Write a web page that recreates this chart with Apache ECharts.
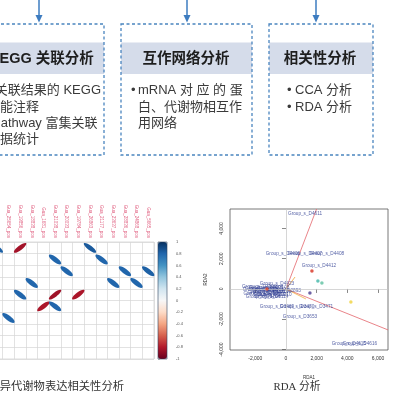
<!DOCTYPE html>
<html><head><meta charset="utf-8">
<script src="https://cdn.jsdelivr.net/npm/echarts@6/dist/echarts.min.js"></script>
<style>html,body{margin:0;padding:0;background:#fff}#c{width:396px;height:396px}</style>
</head><body><div id="c"></div>
<script>
// ---------------- data: correlation (ellipse) plot ----------------
const corrColumns = ['Gua_26432_pos','Gua_25654_pos','Gua_19856_pos','Gua_18838_pos','Gua_1681_pos','Gua_21038_pos','Gua_20033_pos','Gua_19784_pos','Gua_26863_pos','Gua_21177_pos','Gua_23637_pos','Gua_28836_pos','Gua_24868_pos','Gua_5665_pos'];
const corrRows = ['Gene_01','Gene_02','Gene_03','Gene_04','Gene_05','Gene_06','Gene_07','Gene_08','Gene_09','Gene_10'];
const corrColIndex = [0, 2, 8, 5, 9, 6, 11, 13, 3, 10, 12, 2, 5, 7, 4, 5, 1];
const corrRowIndex = [0, 0, 0, 1, 1, 2, 2, 2, 3, 3, 3, 4, 4, 4, 5, 5, 6];
const corrR = [0.82, -0.84, 0.84, 0.8, 0.8, 0.8, 0.8, 0.82, 0.8, 0.8, 0.8, 0.8, -0.85, -0.82, -0.82, 0.8, 0.8];
const colorbarTicks = [-1, -0.8, -0.6, -0.4, -0.2, 0, 0.2, 0.4, 0.6, 0.8, 1];
const rdBu = ['#67001f','#b2182b','#d6604d','#f4a582','#fddbc7','#f7f7f7','#d1e5f0','#92c5de','#4393c3','#2166ac','#053061'];

// ---------------- data: RDA plot ----------------
const rdaXTicks = [-2000, 0, 2000, 4000, 6000];
const rdaYTicks = [-4000, -2000, 0, 2000, 4000];
const rdaLabelNames = ['Group_s_D4611','Group_s_D4406','Group_s_D4407','Group_s_D4408','Group_s_D4412','Group_s_D4423','Group_s_D2893',
  'Group_s_D3101','Group_s_D3102','Group_s_D3103','Group_s_D3104','Group_s_D3105','Group_s_D3106','Group_s_D3107','Group_s_D3108','Group_s_D3109','Group_s_D3110','Group_s_D3111','Group_s_D3112','Group_s_D3113','Group_s_D3114',
  'Group_s_D3469','Group_s_D3470','Group_s_D3471','Group_s_D3653','Group_s_D4615','Group_s_D4616'];
const rdaLabelX = [1240, -200, 1240, 2670, 2150, -590, -150,
  -1750, -1700, -1650, -1500, -1300, -1200, -1000, -900, -800, -750, -1550, -1100, -1400, -950,
  -590, 720, 1950, 910, 4100, 4820];
const rdaLabelY = [4950, 2310, 2310, 2310, 1520, 330, -100,
  150, -80, -300, -480, 60, -200, -400, 100, -150, -350, 0, -20, -250, -500,
  -1190, -1190, -1190, -1850, -3630, -3630];
const rdaPointX = [1690, 2080, 2340, 1560, -1240, 4230];
const rdaPointY = [1190, 530, 400, -260, 0, -860];
const rdaPointColor = ['#d7301f', '#3fb6a8', '#5cc0a0', '#4a3b8f', '#e8472a', '#f0d23c'];
const rdaArrowX = [1994, 6650, 590, 1300];
const rdaArrowY = [5280, -2704, 790, -660];
const rdaArrowColor = ['#e3646b', '#e3646b', '#f0a030', '#f0b040'];

// ---------------- layout decorations (flow boxes) ----------------
const SANS = '"Liberation Sans","Noto Sans CJK SC",sans-serif';
const SERIF = '"Liberation Serif","Noto Sans CJK SC",serif';
const boxLeft = [-21, 121, 269], boxRight = [104, 252, 373];
const arrowX = [39, 187, 316];
const headerText = ['KEGG 关联分析', '互作网络分析', '相关性分析'];
const headerCx = [41.5, 186, 320];
const bodyLines = [
  ['关联结果的 KEGG', 101, 90, 'right'],
  ['功能注释', -13, 107, 'left'],
  ['Pathway 富集关联', -8, 123, 'left'],
  ['数据统计', -13, 139, 'left'],
  ['•', 131, 90, 'left'],
  ['mRNA 对 应 的 蛋', 138, 90, 'left'],
  ['白、代谢物相互作', 138, 107, 'left'],
  ['用网络', 138, 123, 'left'],
  ['•', 287, 90, 'left'],
  ['CCA 分析', 295, 90, 'left'],
  ['•', 287, 107, 'left'],
  ['RDA 分析', 295, 107, 'left']
];

const graphics = [];
for (let i = 0; i < 3; i++) {
  const l = boxLeft[i], r = boxRight[i];
  graphics.push({type:'rect', z:1, shape:{x:l, y:42.5, width:r-l, height:31.5}, style:{fill:'#d5dcea'}});
  graphics.push({type:'rect', z:2, shape:{x:l, y:24, width:r-l, height:131}, style:{fill:null, stroke:'#4a85bf', lineWidth:1.3, lineDash:[3,2.5]}});
  graphics.push({type:'line', z:2, shape:{x1:arrowX[i], y1:0, x2:arrowX[i], y2:17}, style:{stroke:'#3d7cc0', lineWidth:1.5}});
  graphics.push({type:'polygon', z:2, shape:{points:[[arrowX[i]-3.5,15],[arrowX[i]+3.5,15],[arrowX[i],22.5]]}, style:{fill:'#3d7cc0'}});
  graphics.push({type:'text', z:3, x:headerCx[i], y:58.5, style:{text:headerText[i], font:'bold 14.5px ' + SANS, fill:'#1e1e1e', textAlign:'center', textVerticalAlign:'middle'}});
}
bodyLines.forEach(function (b) {
  graphics.push({type:'text', z:3, x:b[1], y:b[2], style:{text:b[0], font:'13px ' + SANS, fill:'#3a3a3a', textAlign:b[3], textVerticalAlign:'middle'}});
});
// captions
graphics.push({type:'text', x:124, y:387, style:{text:'差异代谢物表达相关性分析', font:'11.3px ' + SERIF, fill:'#333', textAlign:'right', textVerticalAlign:'middle'}});
graphics.push({type:'text', x:297, y:387, style:{text:'RDA 分析', font:'10.8px ' + SERIF, fill:'#333', textAlign:'center', textVerticalAlign:'middle'}});
// colour bar frame
graphics.push({type:'rect', z:5, shape:{x:158, y:242, width:9, height:117}, style:{fill:null, stroke:'#2b3f5c', lineWidth:0.6}});

const chart = echarts.init(document.getElementById('c'), null, {renderer:'canvas', width:396, height:396});

const ANG = 37 * Math.PI / 180;
const corrData = corrR.map(function (v, i) { return [corrColIndex[i], corrRowIndex[i], v]; });

const option = {
  animation: false,
  backgroundColor: '#fff',
  textStyle: {fontFamily: SANS},
  grid: [
    {left:-9, top:242, width:163, height:117, show:true, borderColor:'#cfcfcf', borderWidth:0.7, backgroundColor:'transparent', containLabel:false, outerBoundsMode:'none'},
    {left:230, top:209, width:158, height:141, show:true, borderColor:'#555', borderWidth:0.8, backgroundColor:'transparent', containLabel:false, outerBoundsMode:'none'},
    {left:158, top:242, width:9, height:117, show:false, containLabel:false, outerBoundsMode:'none'}
  ],
  xAxis: [
    {gridIndex:0, type:'category', data:corrColumns, position:'top', boundaryGap:true,
     axisLine:{show:false}, axisTick:{show:false},
     splitLine:{show:true, interval:0, lineStyle:{color:'#d6d6d6', width:0.7}},
     axisLabel:{interval:0, rotate:90, margin:4, fontSize:4.5, color:'#e06080', fontFamily:SANS}},
    {gridIndex:1, type:'value', min:-3650, max:6650, splitLine:{show:false},
     axisLine:{show:false},
     axisTick:{show:true, length:4, customValues:rdaXTicks, lineStyle:{color:'#555', width:0.7}},
     axisLabel:{customValues:rdaXTicks, fontSize:5, color:'#333', margin:6},
     name:'RDA1', nameLocation:'middle', nameGap:26, nameTextStyle:{fontSize:4.5, color:'#333'}},
    {gridIndex:2, type:'value', show:false, min:0, max:1}
  ],
  yAxis: [
    {gridIndex:0, type:'category', data:corrRows, inverse:true, boundaryGap:true,
     axisLine:{show:false}, axisTick:{show:false}, axisLabel:{show:false},
     splitLine:{show:true, interval:0, lineStyle:{color:'#d6d6d6', width:0.7}}},
    {gridIndex:1, type:'value', min:-4030, max:5280, splitLine:{show:false},
     axisLine:{show:false},
     axisTick:{show:true, length:4, customValues:rdaYTicks, lineStyle:{color:'#555', width:0.7}},
     axisLabel:{customValues:rdaYTicks, rotate:90, fontSize:5, color:'#333', margin:6},
     name:'RDA2', nameLocation:'middle', nameRotate:90, nameGap:22, nameTextStyle:{fontSize:4.5, color:'#333'}},
    {gridIndex:2, type:'value', min:-1, max:1, interval:0.2, position:'right',
     axisLine:{show:false}, splitLine:{show:false},
     axisTick:{show:true, length:2, lineStyle:{color:'#aaa', width:0.5}},
     axisLabel:{fontSize:4, color:'#555', margin:9}}
  ],
  visualMap: {
    type:'continuous', min:-1, max:1, seriesIndex:0, dimension:2, calculable:false,
    orient:'vertical', left:158, top:242, itemWidth:9, itemHeight:117, padding:0,
    text:null, showLabel:false, hoverLink:false,
    inRange:{color:rdBu}
  },
  series: [
    {
      type:'custom', xAxisIndex:0, yAxisIndex:0, data:corrData, clip:false,
      renderItem: function (params, api) {
        const c = api.coord([api.value(0), api.value(1)]);
        const s = api.size([1, 1]);
        const r = api.value(2);
        const k = s[0] * 0.48;
        return {
          type:'ellipse', x:c[0], y:c[1], rotation: r > 0 ? -ANG : ANG,
          shape:{cx:0, cy:0, rx:k * Math.sqrt(1 + Math.abs(r)), ry:k * Math.sqrt(1 - Math.abs(r))},
          style:{fill: api.visual('color')}
        };
      }
    },
    {
      type:'line', xAxisIndex:1, yAxisIndex:1, data:[], symbol:'none', silent:true,
      markLine:{silent:true, symbol:'none', label:{show:false}, lineStyle:{color:'#c4c4c4', type:'solid', width:0.7},
        data:[{xAxis:0}, {yAxis:0}]}
    }
  ].concat(rdaArrowX.map(function (x, i) {
    return {type:'line', xAxisIndex:1, yAxisIndex:1, data:[[0, 0], [x, rdaArrowY[i]]], symbol:'none', silent:true,
      lineStyle:{color:rdaArrowColor[i], width:0.8}, z:3};
  })).concat([
    {
      type:'scatter', xAxisIndex:1, yAxisIndex:1, symbolSize:0, silent:true, z:4,
      data: rdaLabelNames.map(function (n, i) { return {name:n, value:[rdaLabelX[i], rdaLabelY[i]]}; }),
      label:{show:true, position:'inside', formatter:'{b}', fontSize:4.7, color:'#2a3a90', fontFamily:SANS}
    },
    {
      type:'scatter', xAxisIndex:1, yAxisIndex:1, symbolSize:3.5, silent:true, z:5,
      data: rdaPointX.map(function (x, i) { return {value:[x, rdaPointY[i]], itemStyle:{color:rdaPointColor[i]}}; })
    }
  ]),
  graphic: graphics
};
chart.setOption(option);
</script></body></html>
